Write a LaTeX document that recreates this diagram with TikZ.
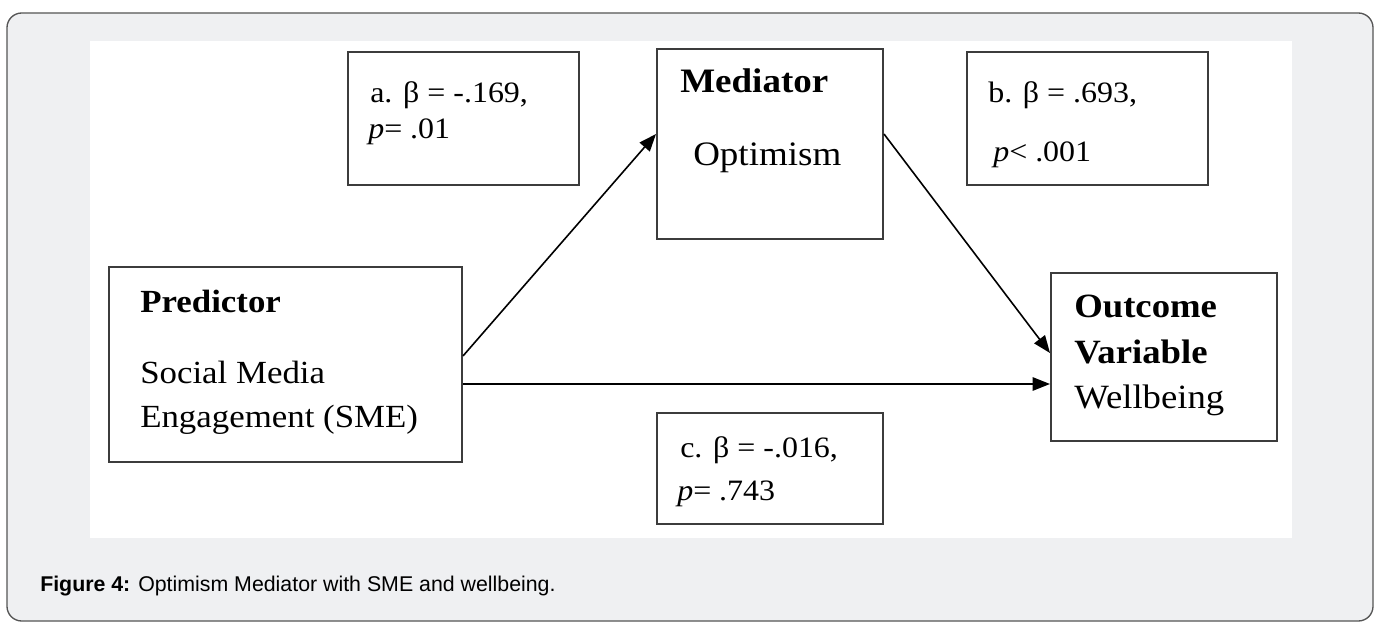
\documentclass[tikz,border=0pt]{standalone}
\usepackage{fontspec}
\setmainfont{Liberation Serif}[FakeStretch=1.08]
\newfontfamily\capfont{Liberation Sans}
\usetikzlibrary{arrows.meta}
\definecolor{panelgray}{HTML}{EFF0F2}
\definecolor{framegray}{HTML}{555555}
\definecolor{boxline}{HTML}{3C3C3C}
\tikzset{
  box/.style={draw=boxline, line width=1.5pt, fill=white, inner sep=0pt, anchor=north west},
  txt/.style={anchor=base west, inner sep=0pt, text=black},
  conn/.style={draw=black, line width=1.2pt, -{Triangle[length=13pt,width=10pt]}},
}
\newcommand{\predsize}{\fontsize{24.2pt}{30pt}\selectfont}
\newcommand{\medsize}{\fontsize{25.7pt}{30pt}\selectfont}
\newcommand{\outsize}{\fontsize{25.5pt}{30pt}\selectfont}
\newcommand{\smallsz}{\fontsize{22.2pt}{27pt}\selectfont}
\begin{document}
\begin{tikzpicture}[x=0.75pt,y=-0.75pt]
\useasboundingbox (0,0) rectangle (1378,624);
% panel
\draw[draw=framegray, line width=1pt, fill=panelgray, rounded corners=11pt] (7,13) rectangle (1373,621);
\fill[white] (90,41) rectangle (1292,538);
% boxes
\node[box, minimum width=173.25pt, minimum height=99.75pt] (abox) at (347,51) {};
\node[box, minimum width=169.5pt, minimum height=142.5pt] (med) at (656,48) {};
\node[box, minimum width=180.75pt, minimum height=99.75pt] (bbox) at (966,51) {};
\node[box, minimum width=264.75pt, minimum height=146.25pt] (pred) at (108,266) {};
\node[box, minimum width=169.5pt, minimum height=126pt] (out) at (1050,272) {};
\node[box, minimum width=169.5pt, minimum height=83.25pt] (cbox) at (656,412) {};
% texts
\node[txt] (ta1) at (370,103) {\smallsz a. β = -.169,};
\node[txt] (ta2) at (368,139) {\smallsz \textit{p}= .01};
\node[txt] (tm1) at (680,93) {\medsize\bfseries Mediator};
\node[txt] (tm2) at (693,166) {\medsize Optimism};
\node[txt] (tb1) at (988,103) {\smallsz b. β = .693,};
\node[txt] (tb2) at (993,162) {\smallsz \textit{p}< .001};
\node[txt] (tp1) at (140,312) {\predsize\bfseries Predictor};
\node[txt] (tp2) at (140,383) {\predsize Social Media};
\node[txt] (tp3) at (140,427) {\predsize Engagement (SME)};
\node[txt] (to1) at (1074,317) {\outsize\bfseries Outcome};
\node[txt] (to2) at (1074,363) {\outsize\bfseries Variable};
\node[txt] (to3) at (1074,408) {\outsize Wellbeing};
\node[txt] (tc1) at (680,457) {\smallsz c. β = -.016,};
\node[txt] (tc2) at (677,500) {\smallsz \textit{p}= .743};
% caption
\node[txt] (cap) at (40,591) {\capfont\fontsize{16pt}{19pt}\selectfont\textbf{Figure 4:} Optimism Mediator with SME and wellbeing.};
% connectors
\draw[conn] ([yshift=6.4pt]pred.east) -- ([yshift=7.5pt]med.west);
\draw[conn] ([yshift=7.5pt]med.east) -- ([yshift=3pt]out.west);
\draw[conn] ([yshift=-14.6pt]pred.east) -- ([yshift=-20.25pt]out.west);
\end{tikzpicture}
\end{document}
